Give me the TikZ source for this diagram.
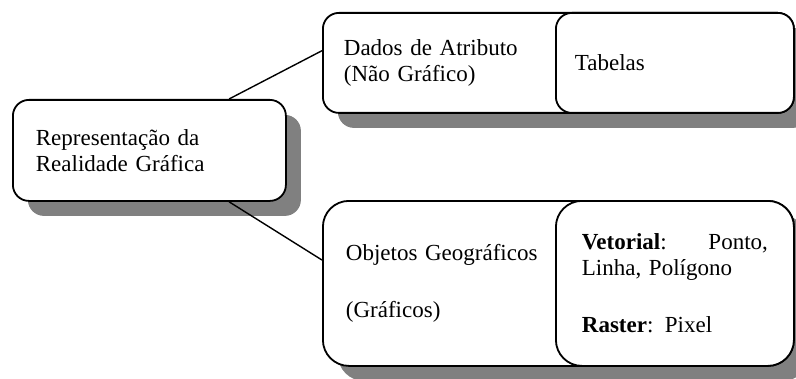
\documentclass[tikz,border=0pt]{standalone}
\usepackage{fontspec}
\setmainfont{Liberation Serif}
\usetikzlibrary{positioning, calc, shadows}

\begin{document}
\begin{tikzpicture}[
        x=0.5pt, y=-0.5pt,
        font=\fontsize{11.5}{12.8}\selectfont,
        box/.style={rectangle, draw=black, line width=0.9pt, fill=white, rounded corners=8pt, align=left, anchor=north west},
        shadowed/.style={drop shadow={shadow xshift=7.5pt, shadow yshift=-7.5pt, fill=gray, opacity=1}},
        link/.style={line width=0.7pt}
    ]
        \useasboundingbox (0,0) rectangle (796,379);

        % Root
        \node[box, shadowed, minimum width=136.5pt, minimum height=50.5pt, inner xsep=11.5pt, text width=113.5pt] (repr) at (12,99) {Representação da\\Realidade Gráfica};

        % Attribute data
        \node[box, shadowed, minimum width=235.5pt, minimum height=50pt, inner xsep=10.5pt, text width=214.5pt] (attr) at (322,12) {Dados de Atributo\\(Não Gráfico)};
        \node[box, anchor=north east, minimum width=119pt, minimum height=50pt, inner xsep=9.5pt, text width=100pt] (tab) at (attr.north east) {Tabelas};

        % Geographic objects
        \node[box, shadowed, rounded corners=13pt, minimum width=235.5pt, minimum height=82.5pt, inner xsep=11.5pt, text width=212.5pt] (geo) at (322,200) {Objetos Geográficos\\[16pt](Gráficos)};
        \node[box, anchor=north east, rounded corners=13pt, minimum width=119pt, minimum height=82.5pt, inner xsep=13pt, text width=93pt] (vec) at (geo.north east) {\textbf{Vetorial}:\hfill Ponto,\\Linha, Polígono\\[16pt]\textbf{Raster}: Pixel};

        % Lines
        \draw[link] ($(repr.north west)!0.79!(repr.north east)$) -- ($(attr.north west)!0.38!(attr.south west)$);
        \draw[link] ($(repr.south west)!0.79!(repr.south east)$) -- ($(geo.north west)!0.36!(geo.south west)$);
    \end{tikzpicture}
\end{document}
